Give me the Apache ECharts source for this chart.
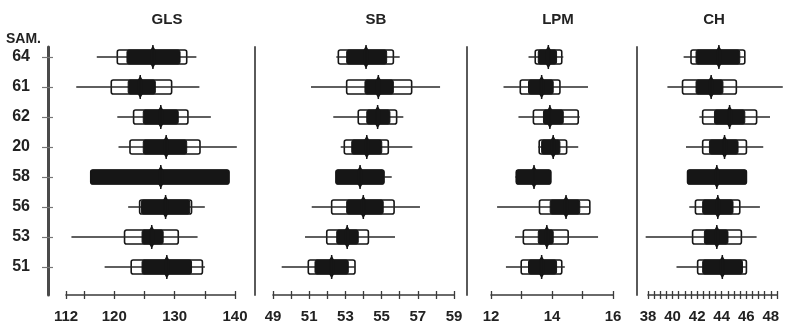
<!DOCTYPE html>
<html>
<head>
<meta charset="utf-8">
<script src="https://cdn.jsdelivr.net/npm/echarts@6/dist/echarts.min.js"></script>
<style>
  html, body { margin: 0; padding: 0; background: #fff; }
  #chart { width: 787px; height: 326px; }
</style>
</head>
<body>
<div id="chart"></div>
<script>
// sample numbers, top to bottom
const samples = ['64', '61', '62', '20', '58', '56', '53', '51']

// GLS
const glsMean = [126.4, 124.3, 127.7, 128.6, 127.7, 128.5, 126.2, 128.7]
const glsRange = [[117.1, 133.6], [113.7, 134.1], [120.5, 136.0], [120.7, 140.3], [116.1, 139.0], [122.3, 135.0], [112.9, 133.8], [118.4, 135.0]]
const glsSd = [[120.5, 132.0], [119.5, 129.5], [123.2, 132.2], [122.6, 134.2], [116.1, 139.0], [124.2, 132.8], [121.7, 130.6], [122.8, 134.6]]
const glsSe = [[122.1, 130.9], [122.3, 126.8], [124.8, 130.6], [124.8, 132.0], [116.1, 139.0], [124.5, 132.5], [124.6, 128.1], [124.6, 132.8]]

// SB
const sbMean = [54.14, 54.82, 54.78, 54.18, 53.81, 53.99, 53.10, 52.24]
const sbRange = [[52.5, 56.0], [51.1, 58.23], [52.33, 56.2], [52.74, 56.7], [52.48, 55.56], [51.14, 57.12], [50.77, 55.74], [49.48, 53.53]]
const sbSd = [[52.61, 55.65], [53.07, 56.66], [53.71, 55.83], [52.94, 55.37], [52.48, 55.13], [52.24, 55.69], [51.97, 54.27], [50.95, 53.53]]
const sbSe = [[53.07, 55.28], [54.08, 55.65], [54.18, 55.46], [53.35, 55.01], [52.48, 55.13], [53.07, 55.09], [52.52, 53.71], [51.32, 53.16]]

// LPM
const lpmMean = [13.88, 13.66, 13.93, 14.04, 13.41, 14.46, 13.83, 13.66]
const lpmRange = [[13.23, 14.37], [12.41, 15.18], [12.9, 14.91], [13.55, 14.86], [12.8, 13.96], [12.2, 15.24], [12.79, 15.51], [12.49, 14.42]]
const lpmSd = [[13.45, 14.32], [12.96, 14.26], [13.39, 14.86], [13.58, 14.48], [12.83, 13.96], [13.59, 15.24], [13.06, 14.53], [12.99, 14.32]]
const lpmSe = [[13.55, 14.15], [13.23, 14.04], [13.72, 14.37], [13.66, 14.26], [12.83, 13.96], [13.94, 14.91], [13.55, 14.04], [13.23, 14.15]]

// CH
const chMean = [43.77, 43.14, 44.64, 44.23, 43.6, 43.68, 43.6, 44.05]
const chRange = [[40.9, 45.88], [39.58, 48.97], [42.18, 47.93], [41.09, 47.38], [41.22, 46.01], [41.36, 47.11], [37.81, 46.84], [40.32, 46.01]]
const chSd = [[41.5, 45.88], [40.81, 45.19], [42.45, 46.84], [42.45, 46.01], [41.22, 46.01], [41.86, 45.47], [41.63, 45.6], [42.04, 46.01]]
const chSe = [[41.91, 45.47], [41.91, 44.1], [43.41, 45.88], [43.0, 45.33], [41.22, 46.01], [42.45, 44.92], [42.59, 44.51], [42.45, 45.69]]

// axis ticks and labels
const glsTicks = [112, 115, 120, 125, 130, 135, 140]
const glsLabels = [112, 120, 130, 140]
const sbTicks = [49, 50, 51, 52, 53, 54, 55, 56, 57, 58, 59]
const sbLabels = [49, 51, 53, 55, 57, 59]
const lpmTicks = [12, 13, 14, 15, 16]
const lpmLabels = [12, 14, 16]
const chTicks = [38, 38.5, 39, 39.5, 40, 40.5, 41, 41.5, 42, 42.5, 43, 43.5, 44, 44.5, 45, 45.5, 46, 46.5, 47, 47.5, 48, 48.5]
const chLabels = [38, 40, 42, 44, 46, 48]

const titles = ['GLS', 'SB', 'LPM', 'CH']

const FONT = '"Liberation Sans", Arial, sans-serif'
const INK = '#161616'
const GRID_TOP = 47
const GRID_H = 248

const panels = [
  { mean: glsMean, range: glsRange, sd: glsSd, se: glsSe, ticks: glsTicks, labels: glsLabels, min: 112, max: 140, left: 66, width: 169, sep: 18, titleX: 162 },
  { mean: sbMean, range: sbRange, sd: sbSd, se: sbSe, ticks: sbTicks, labels: sbLabels, min: 49, max: 59, left: 273, width: 181, sep: 18, titleX: 371 },
  { mean: lpmMean, range: lpmRange, sd: lpmSd, se: lpmSe, ticks: lpmTicks, labels: lpmLabels, min: 12, max: 16, left: 491, width: 122, sep: 24, titleX: 553 },
  { mean: chMean, range: chRange, sd: chSd, se: chSe, ticks: chTicks, labels: chLabels, min: 38, max: 48.5, left: 648, width: 129, sep: 11, titleX: 709 }
]

const rowIdx = samples.map((s, i) => i)

function renderDice(params, api) {
  const row = api.value(0)
  const px = v => api.coord([v, row])[0]
  const y = api.coord([api.value(1), row])[1]
  const xm = px(api.value(1))
  const xr0 = px(api.value(2)), xr1 = px(api.value(3))
  const xs0 = px(api.value(4)), xs1 = px(api.value(5))
  const xe0 = px(api.value(6)), xe1 = px(api.value(7))
  const h = 7
  return {
    type: 'group',
    children: [
      {
        type: 'rect',
        shape: { x: xs0, y: y - h, width: xs1 - xs0, height: 2 * h, r: 2 },
        style: { fill: '#fff', stroke: INK, lineWidth: 1.6 }
      },
      {
        type: 'line',
        shape: { x1: xr0, y1: y, x2: xr1, y2: y },
        style: { stroke: '#2a2a2a', lineWidth: 1.5 }
      },
      {
        type: 'rect',
        shape: { x: xe0, y: y - h, width: xe1 - xe0, height: 2 * h, r: 2 },
        style: { fill: INK, stroke: INK, lineWidth: 1 }
      },
      // mean: thin vertical stroke with a slight bulge
      {
        type: 'polygon',
        shape: { points: [[xm, y - 11.5], [xm + 2.5, y - 7], [xm + 2.5, y + 7], [xm, y + 11.5], [xm - 2.5, y + 7], [xm - 2.5, y - 7]] },
        style: { fill: INK }
      },
      {
        type: 'line',
        shape: { x1: xm, y1: y - 12, x2: xm, y2: y + 12 },
        style: { stroke: INK, lineWidth: 1.5 }
      }
    ]
  }
}

const grid = [], xAxis = [], yAxis = [], series = [], title = []

panels.forEach((p, i) => {
  grid.push({ left: p.left, width: p.width, top: GRID_TOP, height: GRID_H })
  title.push({
    text: titles[i],
    left: p.titleX,
    top: 7,
    textAlign: 'center',
    textStyle: { fontFamily: FONT, fontSize: 15, fontWeight: 'bold', color: '#222' }
  })
  // main x axis, ticks below the line
  xAxis.push({
    type: 'value',
    gridIndex: i,
    min: p.min,
    max: p.max,
    position: 'bottom',
    axisLine: { show: true, onZero: false, lineStyle: { color: '#3a3a3a', width: 1.6 } },
    axisTick: { show: true, length: 4, customValues: p.ticks, lineStyle: { color: '#3a3a3a', width: 1.3 } },
    axisLabel: {
      customValues: p.labels,
      margin: 14,
      fontFamily: FONT,
      fontSize: 15,
      fontWeight: 'bold',
      color: '#222'
    },
    splitLine: { show: false }
  })
  // same axis again with inside ticks, so the ticks cross the line
  xAxis.push({
    type: 'value',
    gridIndex: i,
    min: p.min,
    max: p.max,
    position: 'bottom',
    axisLine: { show: false, onZero: false },
    axisTick: { show: true, inside: true, length: 4, customValues: p.ticks, lineStyle: { color: '#3a3a3a', width: 1.3 } },
    axisLabel: { show: false },
    splitLine: { show: false }
  })
  const isFirst = i === 0
  yAxis.push({
    type: 'value',
    gridIndex: i,
    inverse: true,
    min: -1 / 3,
    max: 7.933,
    position: 'left',
    offset: p.sep,
    axisLine: { show: true, onZero: false, lineStyle: { color: isFirst ? '#4a4a4a' : '#5a5a5a', width: isFirst ? 3 : 2 } },
    axisTick: { show: isFirst, length: 6, customValues: rowIdx, lineStyle: { color: '#777', width: 1.2 } },
    axisLabel: {
      show: isFirst,
      customValues: rowIdx,
      formatter: v => samples[Math.round(v)],
      margin: 18,
      fontFamily: FONT,
      fontSize: 16,
      fontWeight: 'bold',
      color: '#222'
    },
    splitLine: { show: false }
  })
  if (isFirst) {
    yAxis.push({
      type: 'value',
      gridIndex: i,
      inverse: true,
      min: -1 / 3,
      max: 7.933,
      position: 'left',
      offset: p.sep,
      axisLine: { show: false, onZero: false },
      axisTick: { show: true, inside: true, length: 5, customValues: rowIdx, lineStyle: { color: '#777', width: 1.2 } },
      axisLabel: { show: false },
      splitLine: { show: false }
    })
  }
  series.push({
    type: 'custom',
    name: titles[i],
    xAxisIndex: i * 2,
    yAxisIndex: i === 0 ? 0 : i + 1,
    renderItem: renderDice,
    encode: { x: [1, 2, 3, 4, 5, 6, 7], y: 0 },
    silent: true,
    animation: false,
    data: samples.map((s, r) => [r, p.mean[r], p.range[r][0], p.range[r][1], p.sd[r][0], p.sd[r][1], p.se[r][0], p.se[r][1]])
  })
})

const chart = echarts.init(document.getElementById('chart'), null, { renderer: 'canvas' })
chart.setOption({
  backgroundColor: '#fff',
  animation: false,
  title: title,
  grid: grid,
  xAxis: xAxis,
  yAxis: yAxis,
  series: series,
  graphic: [
    {
      type: 'text',
      left: 6,
      top: 32,
      style: { text: 'SAM.', font: 'bold 14px ' + FONT, fill: '#222' }
    }
  ]
})
</script>
</body>
</html>
